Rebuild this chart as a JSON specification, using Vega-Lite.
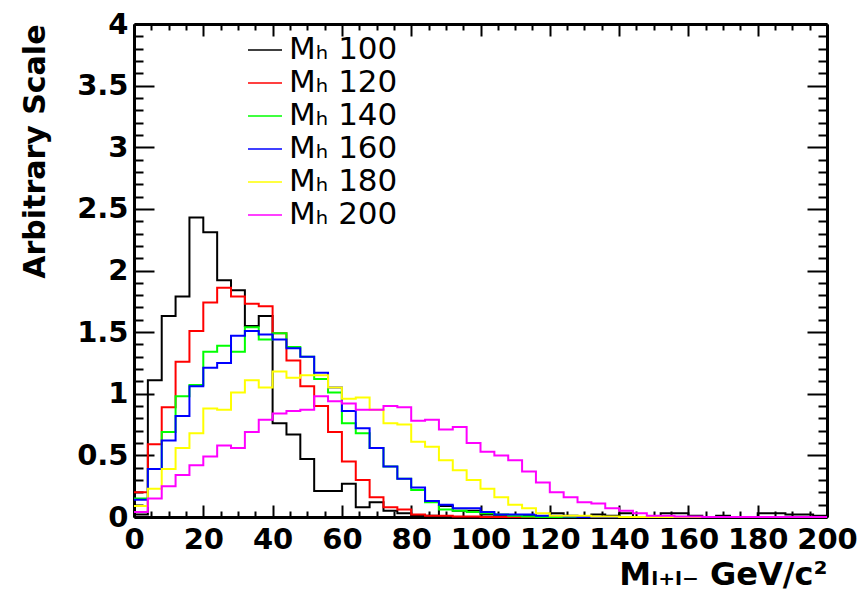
{
  "$schema": "https://vega.github.io/schema/vega-lite/v6.json",
  "width": 693,
  "height": 493,
  "autosize": "none",
  "padding": {"left": 134, "top": 24, "right": 37, "bottom": 83},
  "background": "white",
  "config": {"view": {"stroke": null}},
  "data": {"values": [
    {"x": 0, "h100": 0.02, "h120": 0.20, "h140": 0.15, "h160": 0.14, "h180": 0.09, "h200": 0.04},
    {"x": 4, "h100": 1.11, "h120": 0.59, "h140": 0.39, "h160": 0.39, "h180": 0.23, "h200": 0.15},
    {"x": 8, "h100": 1.63, "h120": 0.89, "h140": 0.69, "h160": 0.62, "h180": 0.39, "h200": 0.25},
    {"x": 12, "h100": 1.79, "h120": 1.26, "h140": 0.98, "h160": 0.82, "h180": 0.56, "h200": 0.34},
    {"x": 16, "h100": 2.43, "h120": 1.51, "h140": 1.07, "h160": 1.06, "h180": 0.68, "h200": 0.42},
    {"x": 20, "h100": 2.31, "h120": 1.74, "h140": 1.34, "h160": 1.21, "h180": 0.88, "h200": 0.49},
    {"x": 24, "h100": 1.92, "h120": 1.86, "h140": 1.39, "h160": 1.25, "h180": 0.87, "h200": 0.58},
    {"x": 28, "h100": 1.84, "h120": 1.79, "h140": 1.34, "h160": 1.47, "h180": 1.01, "h200": 0.56},
    {"x": 32, "h100": 1.55, "h120": 1.73, "h140": 1.54, "h160": 1.51, "h180": 1.11, "h200": 0.69},
    {"x": 36, "h100": 1.63, "h120": 1.71, "h140": 1.44, "h160": 1.48, "h180": 1.05, "h200": 0.79},
    {"x": 40, "h100": 0.76, "h120": 1.49, "h140": 1.49, "h160": 1.44, "h180": 1.18, "h200": 0.84},
    {"x": 44, "h100": 0.67, "h120": 1.27, "h140": 1.38, "h160": 1.37, "h180": 1.13, "h200": 0.86},
    {"x": 48, "h100": 0.47, "h120": 1.06, "h140": 1.30, "h160": 1.30, "h180": 1.15, "h200": 0.87},
    {"x": 52, "h100": 0.21, "h120": 0.90, "h140": 1.12, "h160": 1.17, "h180": 1.15, "h200": 0.98},
    {"x": 56, "h100": 0.21, "h120": 0.69, "h140": 1.01, "h160": 1.05, "h180": 1.05, "h200": 0.94},
    {"x": 60, "h100": 0.27, "h120": 0.45, "h140": 0.76, "h160": 0.86, "h180": 0.96, "h200": 0.92},
    {"x": 64, "h100": 0.08, "h120": 0.30, "h140": 0.68, "h160": 0.72, "h180": 0.97, "h200": 0.87},
    {"x": 68, "h100": 0.12, "h120": 0.16, "h140": 0.56, "h160": 0.56, "h180": 0.87, "h200": 0.87},
    {"x": 72, "h100": 0.05, "h120": 0.08, "h140": 0.41, "h160": 0.41, "h180": 0.76, "h200": 0.90},
    {"x": 76, "h100": 0.03, "h120": 0.06, "h140": 0.31, "h160": 0.31, "h180": 0.75, "h200": 0.89},
    {"x": 80, "h100": 0.01, "h120": 0.02, "h140": 0.22, "h160": 0.24, "h180": 0.61, "h200": 0.78},
    {"x": 84, "h100": 0.01, "h120": 0.01, "h140": 0.12, "h160": 0.13, "h180": 0.57, "h200": 0.79},
    {"x": 88, "h100": 0.09, "h120": 0.01, "h140": 0.06, "h160": 0.10, "h180": 0.46, "h200": 0.71},
    {"x": 92, "h100": 0.05, "h120": 0.005, "h140": 0.05, "h160": 0.07, "h180": 0.38, "h200": 0.73},
    {"x": 96, "h100": 0.05, "h120": 0.005, "h140": 0.04, "h160": 0.07, "h180": 0.30, "h200": 0.60},
    {"x": 100, "h100": 0.02, "h120": 0, "h140": 0.03, "h160": 0.04, "h180": 0.23, "h200": 0.53},
    {"x": 104, "h100": 0.01, "h120": 0, "h140": 0.02, "h160": 0.02, "h180": 0.16, "h200": 0.50},
    {"x": 108, "h100": 0.01, "h120": 0, "h140": 0.01, "h160": 0.02, "h180": 0.10, "h200": 0.46},
    {"x": 112, "h100": 0.01, "h120": 0, "h140": 0.005, "h160": 0.02, "h180": 0.07, "h200": 0.37},
    {"x": 116, "h100": 0, "h120": 0, "h140": 0, "h160": 0.01, "h180": 0.03, "h200": 0.28},
    {"x": 120, "h100": 0.03, "h120": 0, "h140": 0, "h160": 0.01, "h180": 0.01, "h200": 0.20},
    {"x": 124, "h100": 0.01, "h120": 0, "h140": 0, "h160": 0.005, "h180": 0.01, "h200": 0.16},
    {"x": 128, "h100": 0, "h120": 0, "h140": 0, "h160": 0, "h180": 0.01, "h200": 0.12},
    {"x": 132, "h100": 0.02, "h120": 0, "h140": 0, "h160": 0, "h180": 0.005, "h200": 0.11},
    {"x": 136, "h100": 0.01, "h120": 0, "h140": 0, "h160": 0, "h180": 0.005, "h200": 0.07},
    {"x": 140, "h100": 0.03, "h120": 0, "h140": 0, "h160": 0, "h180": 0, "h200": 0.05},
    {"x": 144, "h100": 0, "h120": 0, "h140": 0, "h160": 0, "h180": 0, "h200": 0.03},
    {"x": 148, "h100": 0, "h120": 0, "h140": 0, "h160": 0, "h180": 0, "h200": 0.01},
    {"x": 152, "h100": 0.03, "h120": 0, "h140": 0, "h160": 0, "h180": 0, "h200": 0.01},
    {"x": 156, "h100": 0.03, "h120": 0, "h140": 0, "h160": 0, "h180": 0, "h200": 0.005},
    {"x": 160, "h100": 0.01, "h120": 0, "h140": 0, "h160": 0, "h180": 0, "h200": 0.005},
    {"x": 164, "h100": 0, "h120": 0, "h140": 0, "h160": 0, "h180": 0, "h200": 0},
    {"x": 168, "h100": 0.01, "h120": 0, "h140": 0, "h160": 0, "h180": 0, "h200": 0},
    {"x": 172, "h100": 0, "h120": 0, "h140": 0, "h160": 0, "h180": 0, "h200": 0},
    {"x": 176, "h100": 0, "h120": 0, "h140": 0, "h160": 0, "h180": 0, "h200": 0},
    {"x": 180, "h100": 0.03, "h120": 0, "h140": 0, "h160": 0, "h180": 0, "h200": 0},
    {"x": 184, "h100": 0.03, "h120": 0, "h140": 0, "h160": 0, "h180": 0, "h200": 0},
    {"x": 188, "h100": 0.02, "h120": 0, "h140": 0, "h160": 0, "h180": 0, "h200": 0},
    {"x": 192, "h100": 0.02, "h120": 0, "h140": 0, "h160": 0, "h180": 0, "h200": 0},
    {"x": 196, "h100": 0.01, "h120": 0, "h140": 0, "h160": 0, "h180": 0, "h200": 0},
    {"x": 200, "h100": 0.01, "h120": 0, "h140": 0, "h160": 0, "h180": 0, "h200": 0}
  ]},
  "transform": [
    {"fold": ["h100", "h120", "h140", "h160", "h180", "h200"], "as": ["mass", "value"]}
  ],
  "resolve": {"axis": {"x": "independent", "y": "independent"}},
  "layer": [
    {
      "mark": {"type": "line", "interpolate": "step-after", "strokeWidth": 2},
      "encoding": {
        "x": {"field": "x", "type": "quantitative",
          "scale": {"domain": [0, 200], "nice": false, "zero": false},
          "axis": {"orient": "bottom", "values": [0, 20, 40, 60, 80, 100, 120, 140, 160, 180, 200],
            "tickSize": -12, "tickWidth": 2, "tickColor": "black",
            "domainColor": "black", "domainWidth": 3, "grid": false,
            "labelFont": "DejaVu Sans", "labelFontWeight": "bold", "labelFontSize": 29, "labelColor": "black",
            "labelPadding": 20, "labelOverlap": false, "labelFlush": false, "format": "d",
            "title": "Mₗ₊ₗ₋ GeV/c²", "titleFont": "DejaVu Sans", "titleFontWeight": "bold", "titleFontSize": 32,
            "titleColor": "black", "titleAnchor": "end", "titlePadding": 5}},
        "y": {"field": "value", "type": "quantitative",
          "scale": {"domain": [0, 4], "nice": false},
          "axis": {"orient": "left", "values": [0, 0.5, 1, 1.5, 2, 2.5, 3, 3.5, 4],
            "tickSize": -20, "tickWidth": 2, "tickColor": "black",
            "domainColor": "black", "domainWidth": 3, "grid": false, "format": "~g",
            "labelFont": "DejaVu Sans", "labelFontWeight": "bold", "labelFontSize": 29, "labelColor": "black",
            "labelPadding": 26, "labelOverlap": false, "labelFlush": false,
            "title": "Arbitrary Scale", "titleFont": "DejaVu Sans", "titleFontWeight": "bold", "titleFontSize": 30,
            "titleColor": "black", "titleAnchor": "end", "titlePadding": 26}},
        "color": {"field": "mass", "type": "nominal",
          "scale": {"domain": ["h100", "h120", "h140", "h160", "h180", "h200"],
            "range": ["#000000", "#ff0000", "#00ff00", "#0000ff", "#ffff00", "#ff00ff"]},
          "legend": {"orient": "none", "legendX": 113, "legendY": 8, "title": null,
            "symbolType": "stroke", "symbolSize": 1156, "symbolStrokeWidth": 1.5,
            "labelFont": "DejaVu Sans", "labelFontSize": 31, "labelColor": "black",
            "labelOffset": 6, "rowPadding": -4, "padding": 0,
            "labelExpr": "'Mₕ ' + substring(datum.label, 1)"}}
      }
    },
    {
      "mark": {"type": "point", "opacity": 0},
      "encoding": {
        "x": {"field": "x", "type": "quantitative",
          "axis": {"orient": "bottom", "values": [0, 5, 10, 15, 25, 30, 35, 45, 50, 55, 65, 70, 75, 85, 90, 95, 105, 110, 115, 125, 130, 135, 145, 150, 155, 165, 170, 175, 185, 190, 195],
            "tickSize": -6, "tickWidth": 2, "tickColor": "black", "domain": false, "labels": false, "grid": false, "title": null}},
        "y": {"field": "value", "type": "quantitative",
          "axis": {"orient": "left", "values": [0.1, 0.2, 0.3, 0.4, 0.6, 0.7, 0.8, 0.9, 1.1, 1.2, 1.3, 1.4, 1.6, 1.7, 1.8, 1.9, 2.1, 2.2, 2.3, 2.4, 2.6, 2.7, 2.8, 2.9, 3.1, 3.2, 3.3, 3.4, 3.6, 3.7, 3.8, 3.9],
            "tickSize": -9, "tickWidth": 2, "tickColor": "black", "domain": false, "labels": false, "grid": false, "title": null}}
      }
    },
    {
      "mark": {"type": "point", "opacity": 0},
      "encoding": {
        "x": {"field": "x", "type": "quantitative",
          "axis": {"orient": "top", "values": [0, 20, 40, 60, 80, 100, 120, 140, 160, 180, 200],
            "tickSize": -12, "tickWidth": 2, "tickColor": "black", "domainColor": "black", "domainWidth": 3,
            "labels": false, "grid": false, "title": null}},
        "y": {"field": "value", "type": "quantitative",
          "axis": {"orient": "right", "values": [0, 0.5, 1, 1.5, 2, 2.5, 3, 3.5, 4],
            "tickSize": -20, "tickWidth": 2, "tickColor": "black", "domainColor": "black", "domainWidth": 3,
            "labels": false, "grid": false, "title": null}}
      }
    },
    {
      "mark": {"type": "point", "opacity": 0},
      "encoding": {
        "x": {"field": "x", "type": "quantitative",
          "axis": {"orient": "top", "values": [0, 5, 10, 15, 25, 30, 35, 45, 50, 55, 65, 70, 75, 85, 90, 95, 105, 110, 115, 125, 130, 135, 145, 150, 155, 165, 170, 175, 185, 190, 195],
            "tickSize": -6, "tickWidth": 2, "tickColor": "black", "domain": false, "labels": false, "grid": false, "title": null}},
        "y": {"field": "value", "type": "quantitative",
          "axis": {"orient": "right", "values": [0.1, 0.2, 0.3, 0.4, 0.6, 0.7, 0.8, 0.9, 1.1, 1.2, 1.3, 1.4, 1.6, 1.7, 1.8, 1.9, 2.1, 2.2, 2.3, 2.4, 2.6, 2.7, 2.8, 2.9, 3.1, 3.2, 3.3, 3.4, 3.6, 3.7, 3.8, 3.9],
            "tickSize": -9, "tickWidth": 2, "tickColor": "black", "domain": false, "labels": false, "grid": false, "title": null}}
      }
    }
  ]
}
